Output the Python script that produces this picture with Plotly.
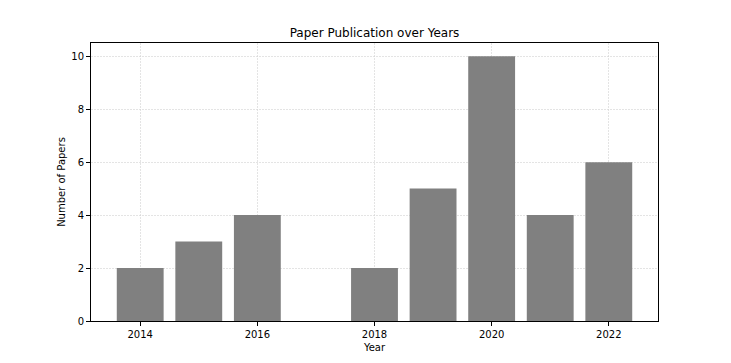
import plotly.graph_objects as go

years = [2014, 2015, 2016, 2018, 2019, 2020, 2021, 2022]
papers = [2, 3, 4, 2, 5, 10, 4, 6]
x_ticks = [2014, 2016, 2018, 2020, 2022]
y_ticks = [0, 2, 4, 6, 8, 10]

fig = go.Figure(go.Bar(x=years, y=papers, width=0.8, marker=dict(color="#808080", line=dict(width=0))))

axis_common = dict(showline=True, linecolor="black", linewidth=1, mirror=True,
                   ticks="outside", ticklen=4, tickcolor="black",
                   showgrid=True, gridcolor="rgba(210,210,210,0.6)", griddash="2px,1px", gridwidth=0.8,
                   zeroline=False, tickfont=dict(size=10, color="black"))

fig.update_layout(
    width=731, height=363,
    margin=dict(l=91, r=73, t=43, b=40),
    paper_bgcolor="white", plot_bgcolor="white",
    font=dict(family="DejaVu Sans", color="black", size=10),
    title=dict(text="Paper Publication over Years", x=0.5, xanchor="center", xref="paper",
               y=1 - 33/363, yanchor="middle", font=dict(size=12)),
    showlegend=False,
)
fig.update_xaxes(range=[2013.16, 2022.84], tickvals=x_ticks, title=dict(text="Year", standoff=4, font=dict(size=10)), **axis_common)
fig.update_yaxes(range=[0, 10.5], tickvals=y_ticks, title=dict(text="Number of Papers", standoff=3, font=dict(size=10)), **axis_common)

fig.write_html("out.html")
